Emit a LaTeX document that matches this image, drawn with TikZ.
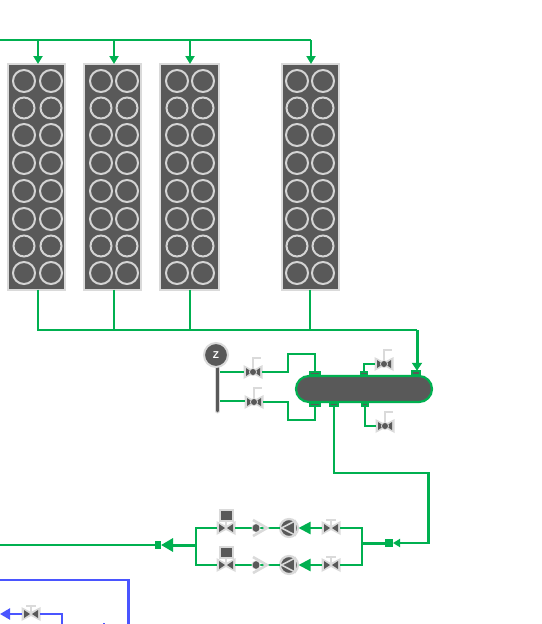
\documentclass[tikz,border=0pt]{standalone}
\usepackage{fontspec}
\setmainfont{Liberation Sans}
\usetikzlibrary{arrows.meta}
\definecolor{pipe}{HTML}{00B050}
\definecolor{dark}{HTML}{595959}
\definecolor{lite}{HTML}{DADADA}
\definecolor{mid}{HTML}{D4D4D4}
\definecolor{blueline}{HTML}{4A55FF}
\tikzset{
  x=1pt,y=-1pt,
  rackbox/.style={draw=lite,fill=dark,line width=2pt,outer sep=0pt,minimum width=57pt,minimum height=225.5pt,inner sep=0pt,anchor=north west},
  tube/.style={draw=mid,line width=2pt},
  gline/.style={draw=pipe,line width=2.2pt},
  gthick/.style={draw=pipe,line width=3pt},
  garrow/.style={gline,-{Triangle[length=8pt,width=9pt]}},
  bline/.style={draw=blueline,line width=2.2pt},
  vspot/.style={inner sep=0pt,outer sep=0pt,minimum width=18pt,minimum height=12pt},
  nozzle/.style={draw=pipe,fill=dark,line width=1.6pt,inner sep=0pt,outer sep=0pt},
  square/.style={fill=pipe,inner sep=0pt,outer sep=0pt,minimum size=7pt},
  valvebody/.pic={
    \fill[lite] (-9.5,-7)--(0,-2)--(9.5,-7)--(9.5,7)--(0,2)--(-9.5,7)--cycle;
    \fill[dark] (-7,-4)--(-1,0)--(-7,4)--cycle;
    \fill[dark] (7,-4)--(1,0)--(7,4)--cycle;
  },
  ballvalve/.pic={
    \pic {valvebody};
    \draw[draw=lite,line width=1.5pt] (0,-2)--(0,-14)--(8,-14);
    \fill[lite] (0,0) circle[radius=4pt];
    \fill[dark] (0,0) circle[radius=3pt];
  },
  handvalve/.pic={
    \pic {valvebody};
    \draw[draw=lite,line width=1.6pt] (0,0)--(0,-8) (-5,-8)--(5,-8);
  },
  boxvalve/.pic={
    \pic {valvebody};
    \draw[draw=lite,line width=1.6pt] (0,0)--(0,-7);
    \draw[draw=lite,fill=dark,line width=2pt] (-6.5,-18)rectangle(6.5,-7);
  },
  checkvalve/.pic={
    \draw[draw=lite,line width=2.6pt] (-3,-8)--(11,0)--(-3,8);
    \fill[lite] (0,0) circle[radius=4.5pt];
    \fill[dark] (0,0) ellipse[x radius=3.4pt,y radius=3.8pt];
  },
  pump/.pic={
    \draw[draw=lite,fill=dark,line width=2.2pt] (0,0) circle[radius=9pt];
    \draw[draw=lite,line width=1.6pt] (-7.5,0)--(6,-7)--(6,7)--cycle;
  },
}
\begin{document}
\begin{tikzpicture}
\useasboundingbox (0,0) rectangle (541,624);
% racks
\node[rackbox] (r1) at (8,64) {};
\node[rackbox] (r2) at (84,64) {};
\node[rackbox,minimum width=59pt] (r3) at (160,64) {};
\node[rackbox] (r4) at (282,64) {};
\foreach \a/\b in {24/51,101/127,177/203,297/323}{
  \foreach \y/\ry in {81/11,108/10.5,135/11,163/11,191/11,219/11,246/10.5,273/11}{
    \draw[tube] (\a,\y) circle[radius=\ry pt];
    \draw[tube] (\b,\y) circle[radius=\ry pt];
  }
}
% inlet header
\coordinate (hl) at (0,40);
\coordinate (hr) at (311,40);
\draw[gline] (hl)--(hr);
\draw[garrow] (38,40)--(r1.north -| 38,40);
\draw[garrow] (114,40)--(r2.north -| 114,40);
\draw[garrow] (190,40)--(r3.north -| 190,40);
\draw[garrow] (hr)--(r4.north -| hr);
% vessel
\node[draw=pipe,fill=dark,line width=2.2pt,rounded corners=13pt,outer sep=0pt,minimum width=136pt,minimum height=26pt,inner sep=0pt] (ves) at (364,389) {};
\node[nozzle,minimum width=10pt,minimum height=3.5pt] (nt1) at (315,373.5) {};
\node[nozzle,minimum width=7pt,minimum height=3.5pt] (nt2) at (364,373.5) {};
\node[nozzle,minimum width=8.5pt,minimum height=4.5pt] (nt3) at (416,373) {};
\node[nozzle,minimum width=10pt,minimum height=3.5pt] (nb1) at (315,404.5) {};
\node[nozzle,minimum width=8pt,minimum height=3pt] (nb2) at (334,404.5) {};
\node[nozzle,minimum width=6.5pt,minimum height=3pt] (nb3) at (365,404.5) {};
% collector
\coordinate (ct) at (417,330);
\draw[gline] (r1.south -| 38,0)--(38,330)--(114,330);
\draw[gline] (r2.south -| 114,0)--(114,330);
\draw[gline] (r3.south -| 190,0)--(190,330);
\draw[gline] (r4.south -| 310,0)--(310,330);
\draw[draw=pipe,line width=2.6pt] (114,330)--(ct);
\draw[gthick,-{Triangle[length=8pt,width=10pt]}] (ct)--(nt3.north -| ct);
% Z and pole
\draw[draw=lite,line width=5pt,line cap=round] (217.5,366)--(217.5,411);
\draw[draw=dark,line width=2.6pt,line cap=round] (217.5,366)--(217.5,411);
\node[circle,draw=lite,fill=dark,line width=2pt,minimum size=24pt,inner sep=0pt,outer sep=0pt,text=white,font=\bfseries\fontsize{10}{10}\selectfont] (z) at (216,355) {Z};
\coordinate (p1) at (220,372);
\coordinate (p2) at (220,401);
% valves
\node[vspot] (v1) at (253,372) {}; \pic at (v1) {ballvalve};
\node[vspot] (v2) at (254,402) {}; \pic at (v2) {ballvalve};
\node[vspot] (v3) at (384,364) {}; \pic at (v3) {ballvalve};
\node[vspot] (v4) at (385,426) {}; \pic at (v4) {ballvalve};
\draw[gline] (p1)--(v1.west);
\draw[gline] (p2)--(p2 -| v2.west);
\draw[gline] (v1.east)--(288,372)--(288,354)--(315,354)--(nt1.north);
\draw[gline] (v2.east)--(288,402)--(288,420)--(315,420)--(nb1.south);
\draw[gline] (nt2.north)--(364,364)--(v3.west);
\draw[gline] (nb3.south)--(365,426)--(v4.west);
% feed line to bottom
\node[square,minimum width=8pt,minimum height=8pt] (s2) at (389,543) {};
\draw[gline,-{Triangle[length=7pt,width=8pt]}] (nb2.south)--(334,473)--(428.5,473)--(428.5,543)--(s2.east);
% pump trains
\node[vspot] (h1) at (331,528) {}; \pic at (h1) {handvalve};
\node[vspot] (h2) at (331,565) {}; \pic at (h2) {handvalve};
\node[circle,inner sep=0pt,outer sep=0pt,minimum size=19pt] (p3) at (289,528) {}; \pic at (p3) {pump};
\node[circle,inner sep=0pt,outer sep=0pt,minimum size=19pt] (p4) at (289,565) {}; \pic at (p4) {pump};
\node[vspot,minimum width=12pt] (c1) at (256,528) {};
\node[vspot,minimum width=12pt] (c2) at (256,565) {};
\node[vspot] (b1) at (226,528) {}; \pic at (b1) {boxvalve};
\node[vspot] (b2) at (226,565) {}; \pic at (b2) {boxvalve};
\coordinate (jr) at (362,543);
\coordinate (jl) at (196,545);
\draw[gline] (h1.east)--(362,528)--(362,565)--(h2.east);
\draw[gthick] (jr)--(s2.west);
\draw[gline,-{Triangle[length=12pt,width=12pt]}] (h1.west)--(p3.east);
\draw[gline,-{Triangle[length=12pt,width=12pt]}] (h2.west)--(p4.east);
\draw[gline] (p3.west)--(c1.center);
\draw[gline] (p4.west)--(c2.center);
\draw[gline] (c1.center)--(b1.east);
\draw[gline] (c2.center)--(b2.east);
\pic at (c1) {checkvalve};
\pic at (c2) {checkvalve};
\draw[gline] (b1.west)--(196,528)--(196,565)--(b2.west);
\node[square,minimum width=6pt,minimum height=7.5pt] (s1) at (158,545) {};
\draw[gthick,-{Triangle[length=12pt,width=13pt]}] (jl)--(s1.east);
\coordinate (ol) at (0,545);
\draw[gline] (ol)--(s1.west);
% blue
\coordinate (b0) at (0,580);
\coordinate (b3) at (128.5,624);
\draw[bline] (b0)--(128.5,580)--(b3);
\node[vspot] (v5) at (31,614) {}; \pic at (v5) {handvalve};
\coordinate (bl) at (0,614);
\coordinate (bd) at (62,624);
\draw[bline,-{Triangle[length=10pt,width=11pt]}] (v5.west)--(bl);
\draw[bline] (v5.east)--(62,614)--(bd);
\fill[blueline] (103,623) rectangle (105,624);
\end{tikzpicture}
\end{document}
